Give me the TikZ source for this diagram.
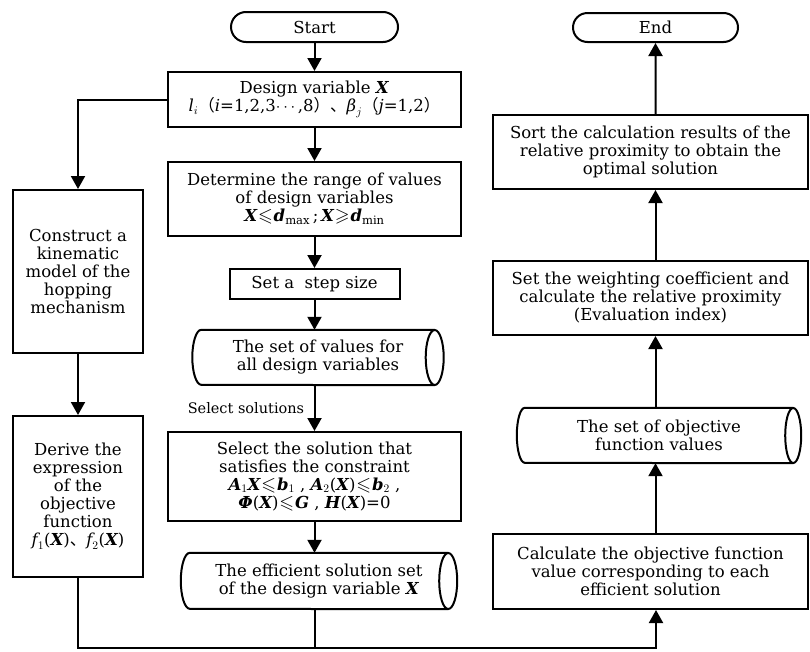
\RequirePackage{fix-cm}
\documentclass[tikz,border=0pt]{standalone}
\usepackage{amsmath,amssymb,bm}
\usepackage{fontspec}
\setmainfont{DejaVu Serif}
\newfontfamily\cjk{Noto Sans CJK SC}
\usetikzlibrary{arrows.meta,shapes.misc}
\newcommand{\myle}{\mathord{\mkern1mu\scalebox{1.15}{$\leqslant$}\mkern1mu}}
\newcommand{\myge}{\mathord{\mkern1mu\scalebox{1.15}{$\geqslant$}\mkern1mu}}
\newcommand{\bi}[1]{\text{\bfseries\itshape #1}}
\newcommand{\ti}[1]{\text{\itshape #1}}
\begin{document}
\begin{tikzpicture}[x=1pt,y=-1pt,
  ln/.style={line width=2pt},
  txt/.style={font=\fontsize{16.5}{18}\selectfont, align=center},
  box/.style={txt, ln, draw, inner sep=2pt},
  term/.style={txt, ln, draw, rounded rectangle, inner sep=2pt},
  store/.style={txt, inner sep=0pt, minimum height=55pt},
  arr/.style={ln, -{Triangle[length=13pt,width=14pt]}},
  lbl/.style={font=\fontsize{14.5}{16}\selectfont}
]
\useasboundingbox (0,0) rectangle (810,651);

% middle column
\node[term, minimum width=171pt, minimum height=30pt] (start) at (314.5,27) {Start};
\node[box, minimum width=293pt, minimum height=55pt] (design) at (314.5,99.5)
  {Design variable \textbf{\textit{X}}\\ $\ti{l}_i${\cjk （}\textit{i}=1,2,3$\cdots$,8{\cjk ）、}$\ti{β}_j${\cjk （}\textit{j}=1,2{\cjk ）}};
\node[box, minimum width=293pt, minimum height=74pt] (range) at (314.5,199)
  {Determine the range of values\\ of design variables\\ $\bi{X}\myle\bi{d}_{\mathrm{max}}$\,;\,$\bi{X}\myge\bi{d}_{\mathrm{min}}$};
\node[box, minimum width=170pt, minimum height=30pt] (stepsz) at (314.5,284) {Set a\ \ step size};
\node[store, minimum width=233pt] (setvals) at (318,357.5) {The set of values for\\ all design variables};
\node[box, minimum width=293pt, minimum height=89pt] (select) at (314.5,476.5)
  {Select the solution that\\ satisfies the constraint\\ $\bi{A}_1\bi{X}\myle\bi{b}_1$ , $\bi{A}_2$(\bi{X})$\myle\bi{b}_2$ ,\\ $\bi{Φ}$(\bi{X})$\myle\bi{G}$ , \bi{H}(\bi{X})=0};
\node[store, minimum width=258pt, minimum height=56pt] (eff) at (319,581)
  {The efficient solution set\\ of the design variable \textbf{\textit{X}}};

% left column
\node[box, minimum width=130pt, minimum height=163pt] (kin) at (78,271.5)
  {Construct a\\ kinematic\\ model of the\\ hopping\\ mechanism};
\node[box, minimum width=130pt, minimum height=161pt] (derive) at (78,496.5)
  {Derive the\\ expression\\ of the\\ objective\\ function\\ $\ti{f}_1$(\bi{X}){\cjk 、}$\ti{f}_2$(\bi{X})};

% right column
\node[box, minimum width=315pt, minimum height=75pt] (calc) at (650.5,571.5)
  {Calculate the objective function\\ value corresponding to each\\ efficient solution};
\node[store, minimum width=268pt] (objset) at (659,435.5) {The set of objective\\ function values};
\node[box, minimum width=315pt, minimum height=74pt] (weight) at (650.5,298)
  {Set the weighting coefficient and\\ calculate the relative proximity\\ (Evaluation index)};
\node[box, minimum width=315pt, minimum height=74pt] (sort) at (650.5,152)
  {Sort the calculation results of the\\ relative proximity to obtain the\\ optimal solution};
\node[term, minimum width=169pt, minimum height=29pt] (endn) at (655.5,27.5) {End};

% storage outlines
\foreach \nm/\rx/\ry in {setvals/9pt/27.5pt, eff/9pt/28pt, objset/8pt/27.5pt}{
  \draw[ln] (\nm.north east) -- (\nm.north west)
     arc[start angle=90,end angle=270,x radius=\rx,y radius=\ry] -- (\nm.south east);
  \draw[ln] (\nm.east) ellipse[x radius=\rx, y radius=\ry];
}

% connectors
\draw[arr] (start) -- (design);
\draw[arr] (design) -- (range);
\draw[arr] (range) -- (stepsz);
\draw[arr] (stepsz) -- (stepsz.south |- setvals.north);
\draw[arr] (setvals.south -| select.north) -- node[lbl, left, xshift=-6pt] {Select solutions} (select);
\draw[arr] (select) -- (select.south |- eff.north);
\draw[arr] (design.west) -| (kin);
\draw[arr] (kin) -- (derive);
\coordinate (br) at (656,648);
\draw[arr] (derive.south) |- (br) -- (calc.south -| br);
\draw[ln] (eff.south -| select.south) -- (select.south |- br);
\draw[arr] (calc.north -| endn) -- (objset.south -| endn);
\draw[arr] (objset.north -| endn) -- (weight.south -| endn);
\draw[arr] (weight.north -| endn) -- (sort.south -| endn);
\draw[arr] (sort.north -| endn) -- (endn);
\end{tikzpicture}
\end{document}
